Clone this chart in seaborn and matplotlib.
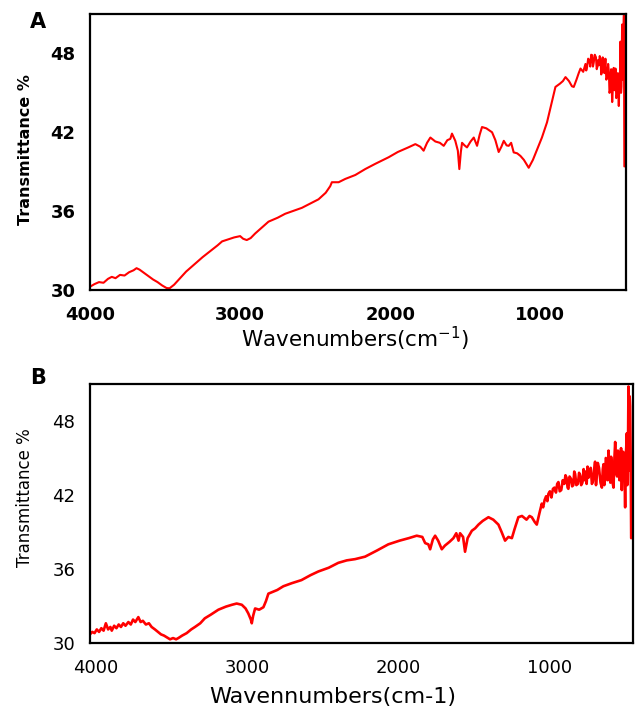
import matplotlib
matplotlib.use("Agg")
import matplotlib.pyplot as plt
import matplotlib.transforms as mtransforms
import seaborn as sns
import pandas as pd

# ---------------- data ----------------
wn_a = [4000, 3970, 3940, 3910, 3880, 3855, 3830, 3800, 3770, 3740, 3710, 3690,
        3670, 3640, 3610, 3580, 3550, 3520, 3490, 3470, 3440, 3400, 3360, 3300,
        3250, 3200, 3150, 3120, 3080, 3040, 3000, 2980, 2956, 2930, 2900, 2860,
        2811, 2750, 2700, 2650, 2589, 2530, 2478, 2430, 2400, 2389, 2344, 2300,
        2233, 2167, 2100, 2011, 1950, 1880, 1833, 1800, 1778, 1755, 1733, 1700,
        1670, 1644, 1620, 1600, 1589, 1567, 1550, 1540, 1530, 1522, 1505, 1489,
        1465, 1444, 1430, 1422, 1405, 1389, 1360, 1322, 1300, 1278, 1260, 1244,
        1225, 1211, 1195, 1178, 1155, 1133, 1110, 1078, 1050, 1022, 990, 956,
        930, 900, 870, 850, 833, 810, 790, 778, 760, 745, 733, 715,
        700, 695, 690, 682, 675, 668, 662, 656, 650, 645, 638, 630, 625, 620,
        615, 611, 605, 600, 595, 590, 585, 580, 574, 567, 561, 555, 549, 544,
        540, 535, 529, 522, 517, 512, 506, 500, 495, 490, 484, 478, 474, 470,
        467, 463, 460, 456, 453, 450, 447, 444, 441]
t_a = [30.25, 30.45, 30.6, 30.55, 30.85, 31.0, 30.9, 31.15, 31.1, 31.35, 31.5, 31.66,
       31.55, 31.3, 31.05, 30.8, 30.6, 30.35, 30.15, 30.13, 30.4, 30.9, 31.4, 32.0,
       32.5, 32.95, 33.4, 33.7, 33.85, 34.0, 34.1, 33.9, 33.8, 33.95, 34.3, 34.7,
       35.2, 35.5, 35.8, 36.0, 36.25, 36.6, 36.9, 37.4, 37.9, 38.2, 38.2, 38.45,
       38.75, 39.2, 39.6, 40.1, 40.5, 40.85, 41.1, 40.9, 40.6, 41.2, 41.6, 41.3,
       41.2, 40.97, 41.4, 41.5, 41.9, 41.35, 40.6, 39.2, 40.5, 41.2, 41.0, 40.85,
       41.3, 41.6, 41.2, 40.97, 41.8, 42.4, 42.3, 42.0, 41.4, 40.5, 40.9, 41.35,
       41.0, 40.97, 41.2, 40.47, 40.4, 40.2, 39.9, 39.3, 39.9, 40.7, 41.6, 42.76,
       44.0, 45.45, 45.7, 45.9, 46.2, 45.9, 45.5, 45.45, 46.0, 46.5, 46.85, 46.6,
       47.2, 46.7, 46.9, 47.6, 47.5, 47.0, 47.9, 47.87, 47.0, 47.3, 47.9, 47.7, 46.8, 47.0,
       47.5, 47.1, 47.8, 47.6, 46.4, 46.6, 47.7, 47.5, 46.5, 47.6, 46.0, 46.2, 47.2, 46.6,
       45.0, 45.2, 46.8, 44.3, 45.5, 46.9, 45.2, 46.85, 44.6, 44.8, 46.5, 44.0, 45.8, 46.5,
       48.9, 45.0, 45.5, 50.2, 46.0, 47.0, 49.5, 50.9, 39.4]

wn_b = [4000, 3985, 3970, 3955, 3940, 3925, 3910, 3895, 3880, 3865, 3856, 3840,
        3825, 3810, 3795, 3780, 3765, 3746, 3730, 3715, 3700, 3680, 3665, 3650,
        3630, 3610, 3592, 3570, 3550, 3530, 3510, 3490, 3470, 3450, 3430, 3415,
        3390, 3360, 3330, 3305, 3270, 3240, 3200, 3150, 3100, 3060, 3029, 2995,
        2970, 2952, 2935, 2929, 2920, 2907, 2880, 2852, 2835, 2819, 2760, 2720,
        2664, 2600, 2540, 2488, 2420, 2356, 2300, 2245, 2179, 2100, 2025, 1950,
        1890, 1837, 1800, 1781, 1760, 1748, 1730, 1715, 1695, 1671, 1650, 1620,
        1594, 1575, 1560, 1550, 1530, 1517, 1500, 1472, 1450, 1428, 1400, 1362,
        1330, 1296, 1275, 1252, 1230, 1207, 1190, 1164, 1140, 1110, 1090, 1075,
        1055, 1042, 1025,
        1009, 1000, 990, 980, 972, 965, 955, 945, 935, 925, 915, 907, 899, 890,
        880, 870, 860, 852, 845, 838, 833, 825, 815, 808, 800, 794, 788, 780,
        770, 762, 755, 748, 740, 732, 726, 720, 712, 706, 700, 692, 685, 677,
        670, 663, 656, 650, 645, 638, 630, 620, 611, 605, 600, 595, 590, 585,
        580, 573, 567, 561, 555, 550, 545, 540, 534, 528, 523, 516, 510, 505,
        500, 495, 490, 484, 479, 474, 470, 466, 462, 457, 453, 450, 446, 443,
        440, 437, 435, 432, 430, 427, 424, 420, 417]
t_b = [30.7, 30.9, 30.8, 31.1, 30.9, 31.2, 31.0, 31.6, 31.1, 31.3, 31.0, 31.4,
       31.2, 31.5, 31.3, 31.6, 31.4, 31.7, 31.5, 31.9, 31.7, 32.1, 31.7, 31.8,
       31.5, 31.6, 31.3, 31.1, 30.9, 30.7, 30.6, 30.45, 30.3, 30.4, 30.3, 30.4,
       30.6, 30.8, 31.1, 31.3, 31.6, 32.0, 32.3, 32.7, 32.95, 33.1, 33.2, 33.1,
       32.8, 32.4, 31.9, 31.6, 32.2, 32.8, 32.7, 32.9, 33.4, 34.0, 34.3, 34.6,
       34.85, 35.1, 35.5, 35.8, 36.1, 36.5, 36.7, 36.8, 37.0, 37.5, 38.0, 38.3,
       38.5, 38.7, 38.6, 38.1, 38.0, 37.6, 38.4, 38.7, 38.3, 37.6, 37.9, 38.2,
       38.5, 38.9, 38.3, 38.9, 38.6, 37.4, 38.5, 39.1, 39.3, 39.6, 39.9, 40.2,
       40.0, 39.6, 39.0, 38.3, 38.6, 38.5, 39.2, 40.2, 40.3, 40.0, 40.3, 40.2,
       39.8, 39.6, 40.5,
       41.3, 41.0, 41.6, 41.9, 41.5, 42.1, 42.3, 41.8, 42.5, 42.6, 42.2, 42.9, 43.05, 42.3,
       42.4, 43.2, 42.9, 43.6, 43.4, 42.6, 42.5, 43.5, 43.3, 42.7, 42.8, 43.9, 43.7, 42.8,
       42.9, 43.8, 43.6, 42.8, 43.0, 44.1, 43.2, 43.9, 42.9, 44.3, 43.4, 44.0, 44.2, 42.9,
       43.1, 44.0, 44.7, 42.8, 43.5, 44.6, 44.2, 43.0, 42.6, 44.1, 44.5, 42.8, 43.3, 45.0,
       44.9, 43.2, 45.6, 44.0, 43.0, 45.1, 44.4, 43.0, 42.6, 45.0, 46.3, 43.8, 43.5, 45.6,
       45.2, 43.2, 44.0, 45.8, 42.4, 44.6, 45.5, 43.6, 44.5, 41.0, 45.2, 45.8, 47.0, 42.8,
       43.0, 48.0, 50.8, 44.0, 46.0, 50.0, 49.2, 44.5, 38.5]

x_ticks = [4000, 3000, 2000, 1000]
y_ticks = [30, 36, 42, 48]

# ---------------- figure ----------------
sns.set_style("white")
plt.rcParams["font.family"] = ["DejaVu Sans"]
plt.rcParams["text.color"] = "black"
plt.rcParams["axes.labelcolor"] = "black"
plt.rcParams["xtick.color"] = "black"
plt.rcParams["ytick.color"] = "black"

W, H = 636, 711
fig = plt.figure(figsize=(W / 100, H / 100), dpi=100)


def px_axes(x0, y0, x1, y1):
    return fig.add_axes([x0 / W, 1 - y1 / H, (x1 - x0) / W, (y1 - y0) / H])


axA = px_axes(90, 14, 626, 290)
axB = px_axes(90, 384, 633, 643)

dfa = pd.DataFrame({"wn": wn_a, "T": t_a})
dfb = pd.DataFrame({"wn": wn_b, "T": t_b})
sns.lineplot(data=dfa, x="wn", y="T", sort=False, estimator=None,
             color="#ff0000", linewidth=1.5, ax=axA)
sns.lineplot(data=dfb, x="wn", y="T", sort=False, estimator=None,
             color="#ff0000", linewidth=1.9, ax=axB)

for ax, xmin in ((axA, 430), (axB, 405)):
    ax.set_xlim(4000, xmin)
    ax.set_ylim(30, 51)
    ax.set_xticks(x_ticks)
    ax.set_yticks(y_ticks)
    for s in ax.spines.values():
        s.set_visible(True)
        s.set_color("black")
        s.set_linewidth(1.6)
    ax.tick_params(axis="both", direction="inout", length=5, width=1.3,
                   colors="black", labelcolor="black", labelsize=13)
    ax.tick_params(axis="x", pad=9)
    ax.tick_params(axis="y", pad=8)

axA.set_yticks([32], minor=True)
axA.tick_params(axis="y", which="minor", direction="inout", length=5, width=1.3)

# tick label weights
for lab in axA.get_xticklabels() + axA.get_yticklabels():
    lab.set_fontweight("bold")

# shift B x tick labels slightly to the right
off = mtransforms.ScaledTranslation(6 / 100, 0, fig.dpi_scale_trans)
for lab in axB.get_xticklabels():
    lab.set_transform(lab.get_transform() + off)

# axis labels
axA.set_xlabel(r"Wavenumbers(cm$^{-1}$)", fontsize=15.5, color="black")
axA.set_ylabel("Transmittance %", fontsize=11.5, fontweight="bold", color="black")
axB.set_xlabel("Wavennumbers(cm-1)", fontsize=16, color="black")
axB.set_ylabel("Transmittance %", fontsize=12, color="black")

axA.xaxis.label.set_va("center")
axA.xaxis.set_label_coords(0.494, -(339 - 290) / 276)
axA.yaxis.label.set_va("center")
axA.yaxis.set_label_coords((26 - 90) / 536, 1 - (150 - 14) / 276)

axB.xaxis.label.set_va("center")
axB.xaxis.set_label_coords(0.447, -(697 - 643) / 259)
axB.yaxis.label.set_va("center")
axB.yaxis.set_label_coords((25 - 90) / 543, 1 - (498 - 384) / 259)

# panel letters
fig.text(38 / W, 1 - 22 / H, "A", fontsize=15, fontweight="bold",
         ha="center", va="center", color="black")
fig.text(38 / W, 1 - 378 / H, "B", fontsize=15, fontweight="bold",
         ha="center", va="center", color="black")

fig.savefig("out.png", dpi=100, facecolor="white")
